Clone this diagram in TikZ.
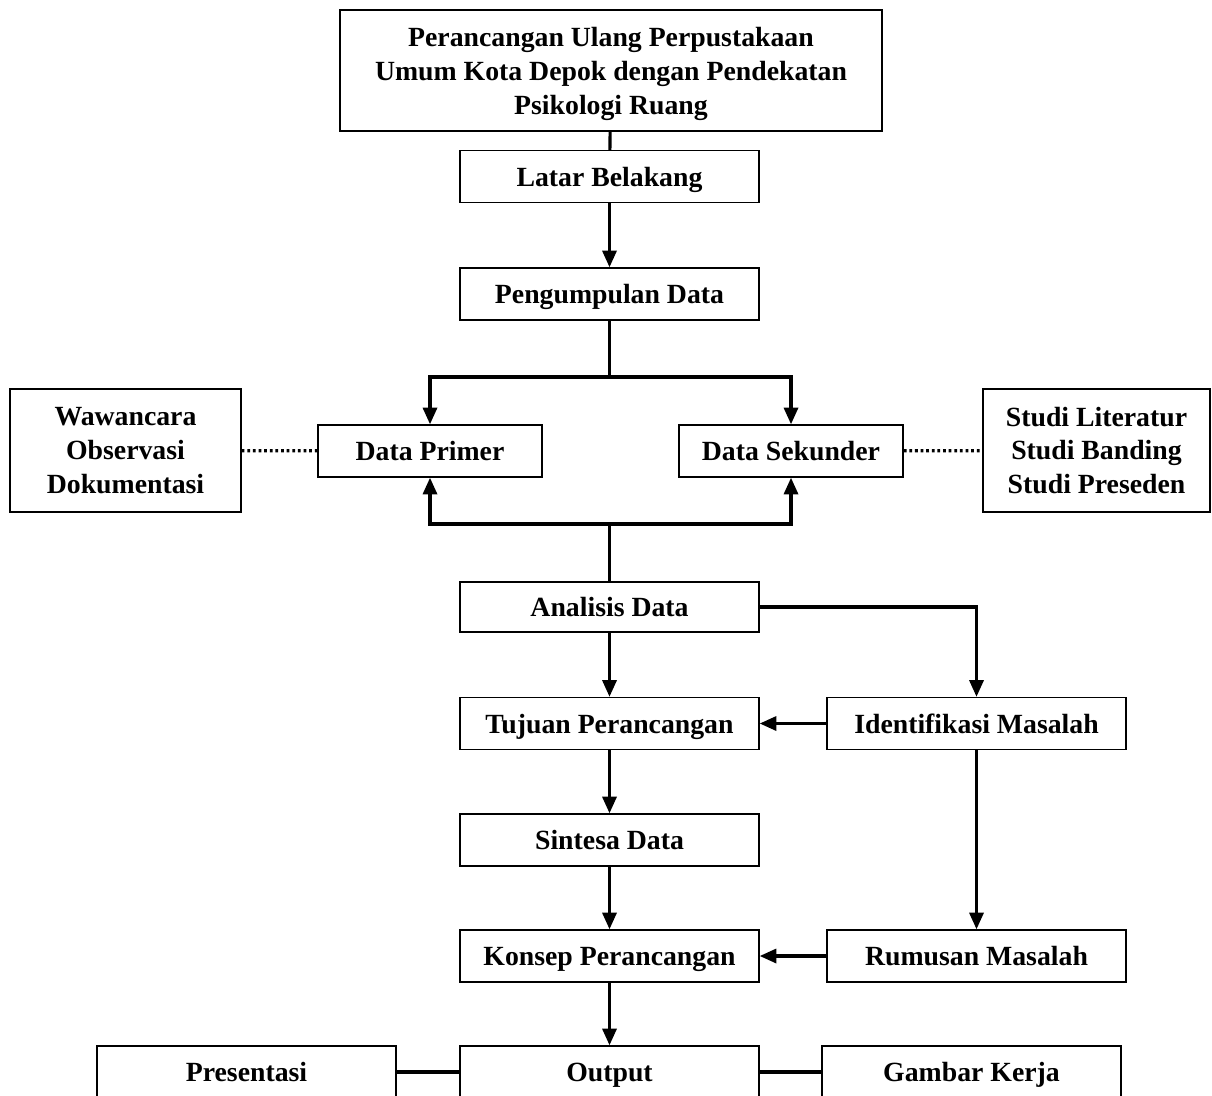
\documentclass[tikz,border=0pt]{standalone}
\usepackage{fontspec}
\setmainfont{Liberation Serif}
\usetikzlibrary{arrows.meta, positioning, calc}

\begin{document}
\begin{tikzpicture}[
    x=0.02cm, y=-0.02cm,
    >={Triangle[length=9.5pt, width=8pt]},
    every node/.style={font=\fontsize{15.8}{19.3}\selectfont\bfseries},
    stepbox/.style={rectangle, draw=black, line width=0.8pt,
        minimum width=5.98cm, minimum height=1.04cm, inner sep=0pt,
        text height=11.5pt, text depth=0.5pt, align=center},
    sidebox/.style={rectangle, draw=black, line width=0.8pt,
        minimum height=2.46cm, inner sep=0pt, align=center},
    arrow/.style={->, line width=1.8pt, black},
    link/.style={line width=1.8pt, black},
    dots/.style={line width=1.8pt, black, dash pattern=on 1.6pt off 1.6pt},
]
\useasboundingbox (0,0) rectangle (1212,1095);

% === TITLE ===
\node[sidebox, minimum width=10.84cm, minimum height=2.42cm, text depth=0pt] (title) at (611, 70.5) {
    Perancangan Ulang Perpustakaan\\
    Umum Kota Depok dengan Pendekatan\\
    Psikologi Ruang
};

% === MAIN COLUMN ===
\node[stepbox] (latar) at (609.5, 176.5) {Latar Belakang};
\node[stepbox] (kumpul) at (609.5, 294) {Pengumpulan Data};
\node[stepbox, minimum width=4.48cm] (primer) at (430, 451) {Data Primer};
\node[stepbox, minimum width=4.48cm] (sekunder) at (791, 451) {Data Sekunder};
\node[stepbox, minimum height=1.0cm] (analisis) at (609.5, 607) {Analisis Data};
\node[stepbox] (tujuan) at (609.5, 723.5) {Tujuan Perancangan};
\node[stepbox] (sintesa) at (609.5, 840) {Sintesa Data};
\node[stepbox] (konsep) at (609.5, 956) {Konsep Perancangan};
\node[stepbox] (output) at (609.5, 1072) {Output};

% === SIDE COLUMN ===
\node[stepbox] (identif) at (976.5, 723.5) {Identifikasi Masalah};
\node[stepbox] (rumusan) at (976.5, 956) {Rumusan Masalah};

% methods
\node[sidebox, minimum width=4.62cm] (wawan) at (125.5, 450.5) {
    Wawancara\\
    Observasi\\
    Dokumentasi
};
\node[sidebox, minimum width=4.54cm] (studi) at (1096.5, 450.5) {
    Studi Literatur\\
    Studi Banding\\
    Studi Preseden
};

% outputs
\node[stepbox] (presentasi) at (246.5, 1072) {Presentasi};
\node[stepbox] (gambar) at (971.5, 1072) {Gambar Kerja};

% === ARROWS ===
\coordinate (split) at (609.5, 377);
\coordinate (join) at (609.5, 524);

\draw[link] (title) -- (latar);
\draw[arrow] (latar) -- (kumpul);
\draw[link] (kumpul.south) -- (split);
\draw[arrow] (split) -| (primer.north);
\draw[arrow] (split) -| (sekunder.north);

\draw[dots] (wawan) -- (primer);
\draw[dots] (sekunder) -- (studi);

\draw[link] (analisis.north) -- (join);
\draw[arrow] (join) -| (primer.south);
\draw[arrow] (join) -| (sekunder.south);

\draw[arrow] (analisis) -- (tujuan);
\draw[arrow] (analisis.east) -| (identif.north);
\draw[arrow] (identif) -- (tujuan);
\draw[arrow] (tujuan) -- (sintesa);
\draw[arrow] (identif) -- (rumusan);
\draw[arrow] (sintesa) -- (konsep);
\draw[arrow] (rumusan) -- (konsep);
\draw[arrow] (konsep) -- (output);

\draw[link] (presentasi) -- (output);
\draw[link] (output) -- (gambar);

\end{tikzpicture}
\end{document}
